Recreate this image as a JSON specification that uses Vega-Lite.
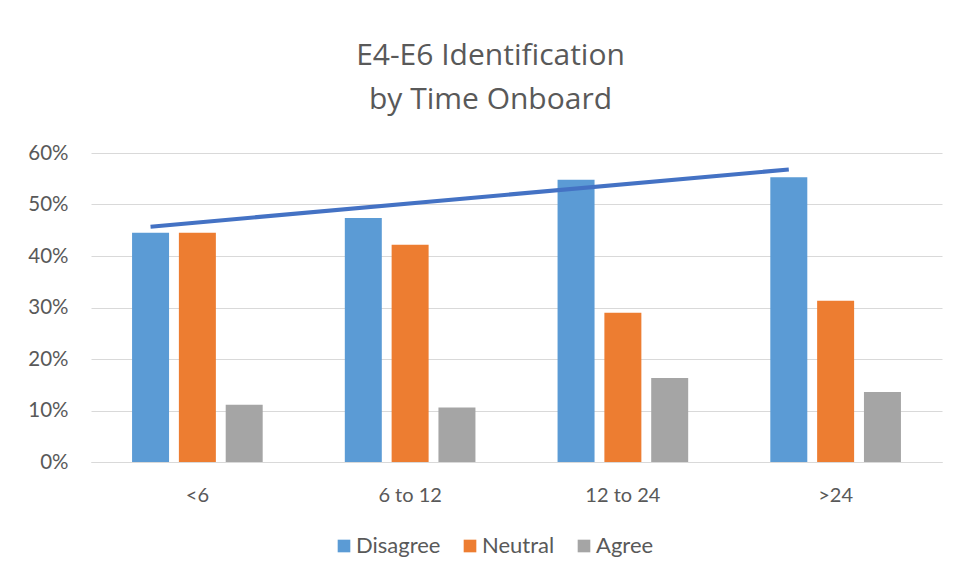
{
  "$schema": "https://vega.github.io/schema/vega-lite/v6.json",
  "width": 851,
  "height": 309,
  "autosize": {"type": "none"},
  "padding": {"left": 91, "top": 153, "right": 17, "bottom": 121},
  "background": "white",
  "title": {
    "text": ["E4-E6 Identification", " by Time Onboard"],
    "font": "Open Sans",
    "fontSize": 30,
    "fontWeight": "normal",
    "color": "#595959",
    "lineHeight": 44,
    "anchor": "middle",
    "frame": "group",
    "dx": -26,
    "offset": 28
  },
  "config": {
    "font": "Lato",
    "view": {"stroke": null}
  },
  "layer": [
    {
      "data": {
        "values": [
          {"time": "<6", "response": "Disagree", "pct": 0.445},
          {"time": "<6", "response": "Neutral", "pct": 0.445},
          {"time": "<6", "response": "Agree", "pct": 0.111},
          {"time": "6 to 12", "response": "Disagree", "pct": 0.474},
          {"time": "6 to 12", "response": "Neutral", "pct": 0.422},
          {"time": "6 to 12", "response": "Agree", "pct": 0.106},
          {"time": "12 to 24", "response": "Disagree", "pct": 0.548},
          {"time": "12 to 24", "response": "Neutral", "pct": 0.290},
          {"time": "12 to 24", "response": "Agree", "pct": 0.163},
          {"time": ">24", "response": "Disagree", "pct": 0.553},
          {"time": ">24", "response": "Neutral", "pct": 0.313},
          {"time": ">24", "response": "Agree", "pct": 0.136}
        ]
      },
      "mark": {"type": "bar"},
      "encoding": {
        "x": {
          "field": "time",
          "type": "nominal",
          "sort": ["<6", "6 to 12", "12 to 24", ">24"],
          "scale": {"domain": ["<6", "6 to 12", "12 to 24", ">24"], "paddingInner": 0.386, "paddingOuter": 0.193},
          "axis": {
            "title": null,
            "labelAngle": 0,
            "labelFontSize": 20,
            "labelColor": "#595959",
            "labelPadding": 23,
            "domain": true,
            "domainColor": "#D9D9D9",
            "ticks": false
          }
        },
        "xOffset": {
          "field": "response",
          "type": "nominal",
          "sort": ["Disagree", "Neutral", "Agree"],
          "scale": {"domain": ["Disagree", "Neutral", "Agree"], "paddingInner": 0.21, "paddingOuter": 0}
        },
        "y": {
          "field": "pct",
          "type": "quantitative",
          "scale": {"domain": [0, 0.6]},
          "axis": {
            "title": null,
            "values": [0, 0.1, 0.2, 0.3, 0.4, 0.5, 0.6],
            "format": ".0%",
            "labelFontSize": 20.5,
            "labelColor": "#595959",
            "labelPadding": 23,
            "domain": false,
            "ticks": false,
            "gridColor": "#D9D9D9",
            "gridWidth": 1
          }
        },
        "color": {
          "field": "response",
          "type": "nominal",
          "scale": {"domain": ["Disagree", "Neutral", "Agree"], "range": ["#5B9BD5", "#ED7D31", "#A5A5A5"]},
          "legend": {
            "title": null,
            "orient": "none",
            "legendX": 242,
            "legendY": 382,
            "direction": "horizontal",
            "symbolType": "square",
            "symbolSize": 160,
            "symbolStrokeWidth": 0,
            "labelFontSize": 22,
            "labelColor": "#595959",
            "labelOffset": 1,
            "columnPadding": 18
          }
        }
      }
    },
    {
      "data": {
        "values": [
          {"time": "<6", "response": "Disagree", "trend": 0.457},
          {"time": ">24", "response": "Disagree", "trend": 0.568}
        ]
      },
      "mark": {"type": "line", "color": "#4472C4", "strokeWidth": 4},
      "encoding": {
        "x": {"field": "time", "type": "nominal", "sort": ["<6", "6 to 12", "12 to 24", ">24"]},
        "xOffset": {"field": "response", "type": "nominal"},
        "y": {"field": "trend", "type": "quantitative"}
      }
    }
  ]
}
